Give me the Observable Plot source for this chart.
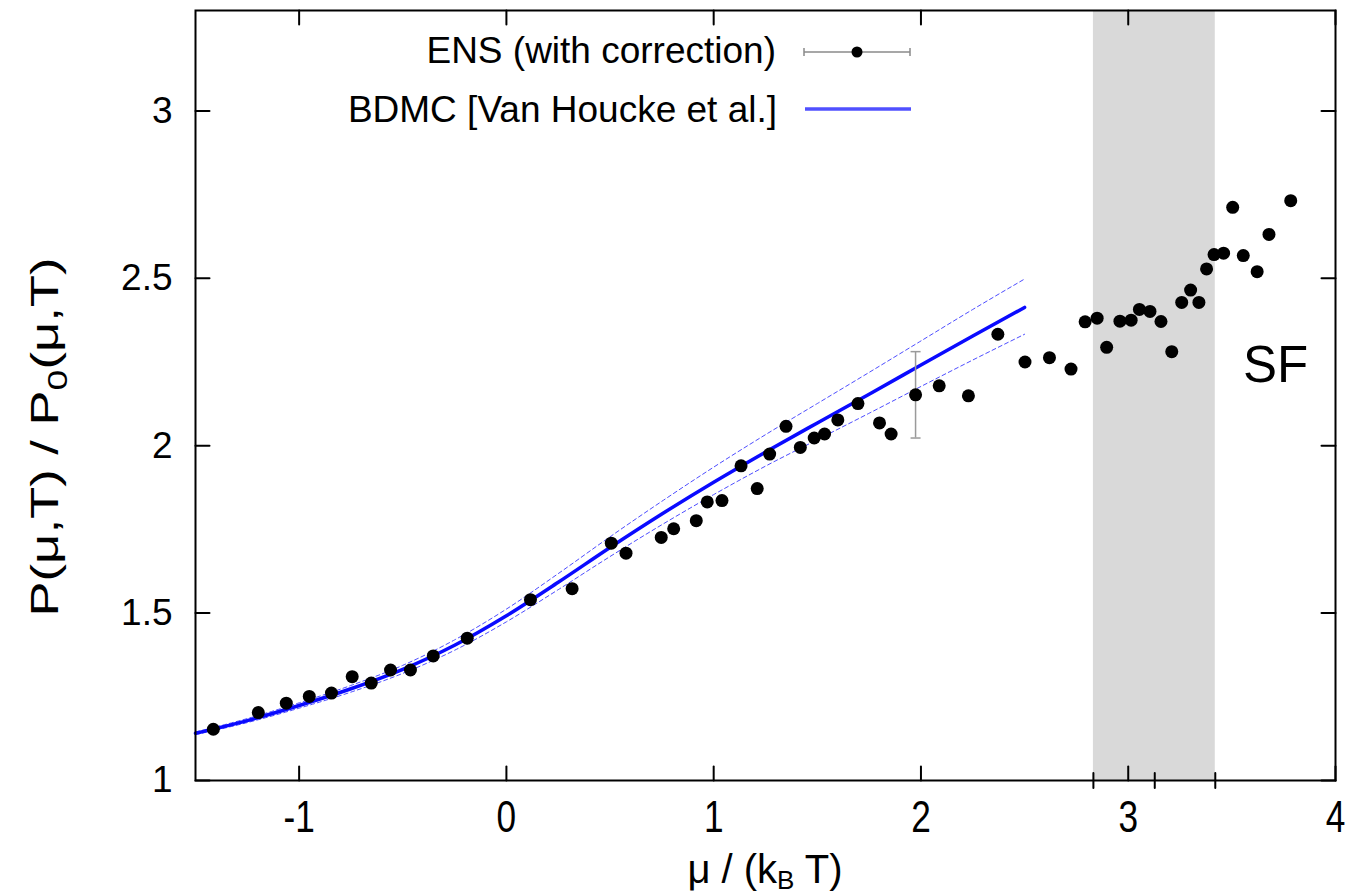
<!DOCTYPE html>
<html>
<head>
<meta charset="utf-8">
<script src="https://cdn.jsdelivr.net/npm/d3@7"></script>
<script src="https://cdn.jsdelivr.net/npm/@observablehq/plot@0.6"></script>
<style>
  html, body { margin: 0; padding: 0; background: #fff; }
  #chart { width: 1351px; height: 896px; }
</style>
</head>
<body>
<div id="chart"></div>
<script>
// ---- ENS data points (with correction) ----
const ensMu = [-1.414, -1.197, -1.062, -0.951, -0.844, -0.744, -0.652, -0.559, -0.463, -0.353,
  -0.189, 0.116, 0.317, 0.506, 0.577, 0.747, 0.807, 0.916, 0.969, 1.040,
  1.132, 1.210, 1.270, 1.349, 1.418, 1.485, 1.535, 1.599, 1.696, 1.800,
  1.856, 1.974, 2.088, 2.229, 2.371, 2.502, 2.620, 2.724, 2.792, 2.850,
  2.896, 2.960, 3.014, 3.054, 3.105, 3.158, 3.210, 3.258, 3.301, 3.341,
  3.378, 3.414, 3.460, 3.504, 3.555, 3.622, 3.679, 3.784];
const ensRatio = [1.153, 1.203, 1.231, 1.251, 1.261, 1.310, 1.291, 1.330, 1.330, 1.372,
  1.425, 1.540, 1.573, 1.709, 1.679, 1.726, 1.752, 1.776, 1.832, 1.836,
  1.940, 1.872, 1.975, 2.058, 1.995, 2.023, 2.035, 2.077, 2.126, 2.068,
  2.035, 2.152, 2.179, 2.149, 2.333, 2.250, 2.263, 2.229, 2.370, 2.381,
  2.294, 2.372, 2.375, 2.407, 2.401, 2.371, 2.281, 2.428, 2.465, 2.428,
  2.528, 2.571, 2.575, 2.712, 2.568, 2.520, 2.631, 2.732];

// ---- representative error bar ----
const errMu = [1.974];
const errLow = [2.023];
const errHigh = [2.281];

// ---- BDMC [Van Houcke et al.] ----
const bdmcMu    = [-1.5, -1.25, -1.0, -0.75, -0.5, -0.25, 0, 0.25, 0.5, 0.75, 1.0, 1.25, 1.5, 1.75, 2.0, 2.25, 2.5];
const bdmcRatio = [1.141, 1.179, 1.224, 1.274, 1.332, 1.404, 1.492, 1.592, 1.696, 1.796, 1.891, 1.981, 2.068, 2.154, 2.241, 2.328, 2.413];
const bdmcUpper = [1.145, 1.185, 1.232, 1.284, 1.344, 1.420, 1.512, 1.618, 1.728, 1.834, 1.936, 2.033, 2.126, 2.219, 2.313, 2.407, 2.498];
const bdmcLower = [1.137, 1.173, 1.216, 1.264, 1.320, 1.389, 1.474, 1.570, 1.669, 1.764, 1.854, 1.939, 2.018, 2.097, 2.177, 2.256, 2.333];

// ---- axes / annotations ----
const xTicks = [-1, 0, 1, 2, 3, 4];
const yTicks = [1, 1.5, 2, 2.5, 3];
const sfBand = [2.832, 3.420];
const bandTicks = [2.832, 3.128, 3.420];

const FONT = "'Liberation Sans', Arial, Helvetica, sans-serif";

const ens = ensMu.map((x, i) => ({x, y: ensRatio[i]}));
const errs = errMu.map((x, i) => ({x, lo: errLow[i], hi: errHigh[i]}));
const bdmc = bdmcMu.map((x, i) => ({x, y: bdmcRatio[i], hi: bdmcUpper[i], lo: bdmcLower[i]}));

const tickShape = {draw(c, l) { c.moveTo(0, 0); c.lineTo(0, -l); }};
const capSymbol = {draw(c, s) { const r = Math.sqrt(s / Math.PI); c.moveTo(-r, 0); c.lineTo(r, 0); }};

const plot = Plot.plot({
  width: 1351,
  height: 896,
  marginLeft: 195,
  marginRight: 16,
  marginTop: 10,
  marginBottom: 116,
  x: {domain: [-1.5, 4]},
  y: {domain: [1, 3.3]},
  style: {fontFamily: FONT, background: "#fff", color: "#000"},
  marks: [
    Plot.rect([sfBand], {x1: d => d[0], x2: d => d[1], fill: "#d9d9d9"}),
    Plot.line(bdmc, {x: "x", y: "hi", stroke: "#4d4dff", strokeWidth: 1, strokeDasharray: "4,3", curve: "monotone-x"}),
    Plot.line(bdmc, {x: "x", y: "lo", stroke: "#4d4dff", strokeWidth: 1, strokeDasharray: "4,3", curve: "monotone-x"}),
    Plot.line(bdmc, {x: "x", y: "y", stroke: "#0a0aff", strokeWidth: 3.5, curve: "monotone-x"}),
    Plot.ruleX(errs, {x: "x", y1: "lo", y2: "hi", stroke: "#9a9a9a", strokeWidth: 1.5}),
    Plot.dot(errs, {x: "x", y: "lo", symbol: capSymbol, r: 5, stroke: "#9a9a9a", strokeWidth: 1.5}),
    Plot.dot(errs, {x: "x", y: "hi", symbol: capSymbol, r: 5, stroke: "#9a9a9a", strokeWidth: 1.5}),
    Plot.dot(ens, {x: "x", y: "y", r: 6.5, fill: "#000", stroke: "none"}),
    Plot.frame({stroke: "#000", strokeWidth: 2}),
    // inward ticks
    Plot.vector(xTicks, {x: d => d, frameAnchor: "bottom", rotate: 0, length: 14, anchor: "start", shape: tickShape, stroke: "#000", strokeWidth: 2}),
    Plot.vector(xTicks, {x: d => d, frameAnchor: "top", rotate: 180, length: 14, anchor: "start", shape: tickShape, stroke: "#000", strokeWidth: 2}),
    Plot.vector(yTicks, {y: d => d, frameAnchor: "left", rotate: 90, length: 14, anchor: "start", shape: tickShape, stroke: "#000", strokeWidth: 2}),
    Plot.vector(yTicks, {y: d => d, frameAnchor: "right", rotate: -90, length: 14, anchor: "start", shape: tickShape, stroke: "#000", strokeWidth: 2}),
    Plot.vector(bandTicks, {x: d => d, frameAnchor: "bottom", rotate: 0, length: 15, anchor: "middle", shape: tickShape, stroke: "#000", strokeWidth: 2}),
    Plot.axisX(xTicks, {tickSize: 0, tickPadding: 20, fontSize: 44, tickFormat: d => String(d), label: null}),
    Plot.axisY(yTicks, {tickSize: 0, tickPadding: 23, fontSize: 37, tickFormat: d => String(d), label: null})
  ]
});

document.getElementById("chart").appendChild(plot);

// condense the x tick labels horizontally (they are tall and narrow in the reference)
d3.select(plot).selectAll("g[aria-label='x-axis tick label'] text").each(function() {
  const w = this.getComputedTextLength();
  if (w > 0) {
    this.setAttribute("textLength", (w * 0.8).toFixed(1));
    this.setAttribute("lengthAdjust", "spacingAndGlyphs");
  }
});

// ---- legend, labels, annotation ----
const svg = d3.select(plot);
const g = svg.append("g").attr("font-family", FONT).attr("fill", "#000").attr("text-anchor", "start");

g.append("text").attr("x", 776).attr("y", 63).attr("text-anchor", "end").attr("font-size", 37)
  .text("ENS (with correction)");
g.append("text").attr("x", 777).attr("y", 122).attr("text-anchor", "end").attr("font-size", 37)
  .text("BDMC [Van Houcke et al.]");

// ENS legend sample (error bar + dot)
g.append("line").attr("x1", 804).attr("x2", 910).attr("y1", 52).attr("y2", 52).attr("stroke", "#8a8a8a").attr("stroke-width", 1.5);
g.append("line").attr("x1", 804).attr("x2", 804).attr("y1", 48).attr("y2", 56).attr("stroke", "#8a8a8a").attr("stroke-width", 1.5);
g.append("line").attr("x1", 910).attr("x2", 910).attr("y1", 48).attr("y2", 56).attr("stroke", "#8a8a8a").attr("stroke-width", 1.5);
g.append("circle").attr("cx", 857).attr("cy", 52).attr("r", 5.5).attr("fill", "#000");
// BDMC legend sample
g.append("line").attr("x1", 805).attr("x2", 911).attr("y1", 109).attr("y2", 109).attr("stroke", "#5050ff").attr("stroke-width", 3.5);

// SF annotation
g.append("text").attr("x", 1243).attr("y", 382).attr("text-anchor", "start").attr("font-size", 51).text("SF");

// x-axis label
const xl = g.append("text").attr("x", 765).attr("y", 883).attr("text-anchor", "middle")
  .attr("font-size", 40);
xl.append("tspan").text("μ / (k");
xl.append("tspan").attr("font-size", 26).attr("dy", 6).text("B");
xl.append("tspan").attr("dy", -6).text(" T)");

// y-axis label
const yl = g.append("text").attr("transform", "translate(58,437) rotate(-90)")
  .attr("text-anchor", "middle").attr("font-size", 38)
  .attr("textLength", 359).attr("lengthAdjust", "spacingAndGlyphs");
yl.append("tspan").text("P(μ,T) / P");
yl.append("tspan").attr("font-size", 27).attr("dy", 9).text("0");
yl.append("tspan").attr("dy", -9).text("(μ,T)");
</script>
</body>
</html>
